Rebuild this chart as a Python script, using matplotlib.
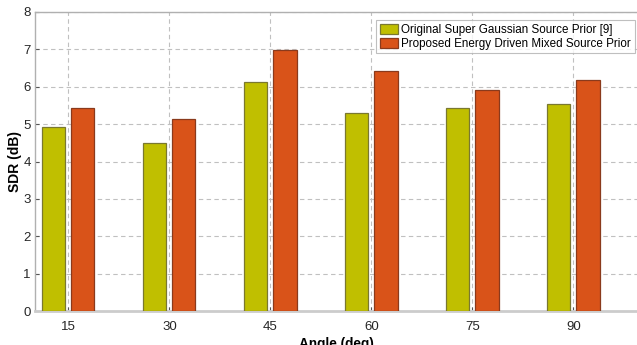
import matplotlib as mpl
import matplotlib.pyplot as plt
import numpy as np

mpl.use('Agg')

angles = ['15', '30', '45', '60', '75', '90']
original = [4.92, 4.49, 6.14, 5.31, 5.43, 5.53]
proposed = [5.44, 5.13, 6.99, 6.42, 5.91, 6.18]
labels = ['Original Super Gaussian Source Prior [9]',
          'Proposed Energy Driven Mixed Source Prior']


def main():
    plt.rcParams['font.family'] = ['Liberation Sans', 'DejaVu Sans']

    fig = plt.figure(figsize=(6.37, 3.45), dpi=100)
    ax = fig.add_axes([35 / 637, 1 - 311 / 345, 602 / 637, 299 / 345])

    x = np.arange(1, len(angles) + 1)
    w = 0.228
    off = 0.145
    ax.bar(x - off, original, w, color='#c0bf00', edgecolor='#7a7830',
           linewidth=0.9, label=labels[0], zorder=3)
    ax.bar(x + off, proposed, w, color='#d95319', edgecolor='#8a3a1c',
           linewidth=0.9, label=labels[1], zorder=3)

    ax.set_xlim(0.67, 6.63)
    ax.set_ylim(0, 8)
    ax.set_xticks(x)
    ax.set_xticklabels(angles)
    ax.set_yticks(range(0, 9))

    ax.grid(True, linestyle=(0, (4, 3)), color='#c0c0c0', linewidth=0.8, zorder=0)
    ax.tick_params(direction='in', length=3, colors='#555555', labelsize=9.5,
                   labelcolor='#262626')
    ax.tick_params(axis='x', pad=7)
    ax.tick_params(axis='y', pad=3)
    for s in ['left', 'top', 'bottom']:
        ax.spines[s].set_color('#b0b0b0')
        ax.spines[s].set_linewidth(1.0)
    ax.spines['bottom'].set_linewidth(2.0)
    ax.spines['bottom'].set_color('#cccccc')
    ax.spines['right'].set_visible(False)

    ax.set_ylabel('SDR (dB)', fontweight='bold', fontsize=10, labelpad=1)
    ax.set_xlabel('Angle (deg)', fontweight='bold', fontsize=9.8, labelpad=3)

    leg = ax.legend(loc='upper right', bbox_to_anchor=(1.0, 0.98), fontsize=8.4,
                    frameon=True, fancybox=False, handlelength=1.6,
                    handleheight=1.0, handletextpad=0.25, borderpad=0.3,
                    labelspacing=0.15, borderaxespad=0.2)
    leg.get_frame().set_edgecolor('#b0b0b0')
    leg.get_frame().set_linewidth(0.8)

    fig.savefig('out.png', dpi=100)


if __name__ == '__main__':
    main()
